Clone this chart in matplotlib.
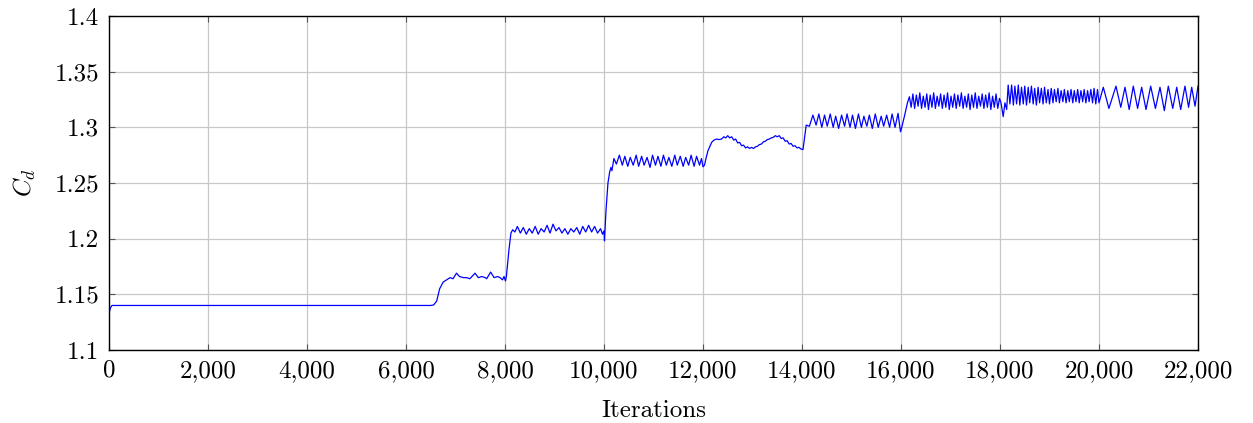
import matplotlib
matplotlib.use('Agg')
import matplotlib.pyplot as plt
from matplotlib.ticker import FuncFormatter
import numpy as np

# drag coefficient history, read per restart block
it_start = [0, 30, 60, 6500, 6560, 6620, 6680, 6750]
cd_start = [1.133, 1.138, 1.140, 1.140, 1.1405, 1.144, 1.155, 1.161]

it_b1 = [6820, 6890, 6950, 7020, 7080, 7160, 7225, 7290, 7395, 7460,
         7530, 7600, 7630, 7710, 7780, 7850, 7900, 7950, 7980, 8010]
cd_b1 = [1.163, 1.165, 1.164, 1.169, 1.166, 1.165, 1.165, 1.164, 1.169, 1.165,
         1.166, 1.165, 1.164, 1.170, 1.165, 1.166, 1.165, 1.163, 1.166, 1.162]

it_b2 = [8030, 8080, 8120, 8155, 8200, 8250, 8310, 8370, 8430, 8490,
         8550, 8610, 8670, 8730, 8790, 8850, 8910, 8970, 9030, 9090,
         9150, 9210, 9270, 9330, 9390, 9450, 9510, 9570, 9630, 9690,
         9750, 9810, 9870, 9930, 9970, 10000, 10010]
cd_b2 = [1.167, 1.190, 1.205, 1.208, 1.206, 1.211, 1.205, 1.210, 1.204, 1.209,
         1.205, 1.211, 1.204, 1.209, 1.206, 1.212, 1.205, 1.213, 1.207, 1.210,
         1.205, 1.209, 1.204, 1.209, 1.206, 1.210, 1.204, 1.211, 1.206, 1.212,
         1.206, 1.211, 1.205, 1.209, 1.204, 1.207, 1.198]

it_b3 = [10040, 10080, 10115, 10140, 10160, 10200, 10250, 10310, 10370, 10420,
         10480, 10530, 10590, 10650, 10700, 10760, 10810, 10870, 10930, 10980,
         11040, 11090, 11150, 11200, 11260, 11310, 11370, 11430, 11480, 11540,
         11600, 11650, 11710, 11760, 11820, 11870, 11930, 11970, 12000, 12030]
cd_b3 = [1.225, 1.250, 1.260, 1.264, 1.261, 1.272, 1.267, 1.275, 1.266, 1.274,
         1.265, 1.273, 1.266, 1.275, 1.265, 1.274, 1.266, 1.273, 1.264, 1.275,
         1.266, 1.274, 1.265, 1.275, 1.266, 1.273, 1.265, 1.275, 1.266, 1.274,
         1.265, 1.273, 1.266, 1.275, 1.265, 1.274, 1.266, 1.272, 1.2645, 1.266]

it_b4 = [12060, 12100, 12140, 12175, 12220, 12275, 12320, 12375, 12420, 12460,
         12500, 12540, 12580, 12620, 12660, 12700, 12740, 12780, 12820, 12860,
         12900, 12940, 12980, 13020, 13060, 13100, 13140, 13180, 13220, 13260,
         13300, 13340, 13380, 13420, 13460, 13500, 13540, 13580, 13620, 13660,
         13700, 13740, 13780, 13820, 13860, 13900, 13940, 13980, 14020]
cd_b4 = [1.272, 1.279, 1.283, 1.2865, 1.2885, 1.2895, 1.289, 1.2895, 1.2915, 1.2905,
         1.2925, 1.2905, 1.2915, 1.2885, 1.2895, 1.2860, 1.2865, 1.2835, 1.2840, 1.2815,
         1.2825, 1.2810, 1.2820, 1.2810, 1.2825, 1.2830, 1.2845, 1.2850, 1.2870, 1.2875,
         1.2890, 1.2895, 1.2905, 1.2910, 1.2925, 1.2915, 1.2925, 1.2900, 1.2905, 1.2875,
         1.2880, 1.2850, 1.2855, 1.2830, 1.2835, 1.2815, 1.2820, 1.2805, 1.2800]

it_b5 = [14050, 14085, 14150, 14220, 14285, 14340, 14400, 14455, 14510, 14570,
         14630, 14680, 14740, 14800, 14860, 14910, 14970, 15020, 15080, 15140,
         15200, 15250, 15310, 15360, 15420, 15480, 15540, 15600, 15650, 15710,
         15770, 15820, 15880, 15940, 15990, 16010]
cd_b5 = [1.2905, 1.302, 1.301, 1.311, 1.302, 1.312, 1.300, 1.311, 1.301, 1.312,
         1.300, 1.310, 1.299, 1.311, 1.301, 1.312, 1.300, 1.311, 1.299, 1.312,
         1.300, 1.310, 1.301, 1.311, 1.299, 1.312, 1.300, 1.310, 1.301, 1.311,
         1.300, 1.312, 1.300, 1.3126, 1.296, 1.299]

it_b6 = [16075, 16130, 16170,
         16205, 16240, 16275, 16310, 16345, 16380, 16415, 16450, 16485, 16520,
         16555, 16590, 16625, 16660, 16695, 16730, 16765, 16800, 16835, 16870,
         16905, 16940, 16975, 17010, 17045, 17080, 17115, 17150, 17185, 17220,
         17255, 17290, 17325, 17360, 17395, 17430, 17465, 17500, 17535, 17570,
         17605, 17640, 17675, 17710, 17745, 17780, 17815, 17850, 17885, 17920,
         17955, 17990]
cd_b6 = [1.311, 1.322, 1.3275,
         1.318, 1.330, 1.317, 1.329, 1.319, 1.331, 1.317, 1.328, 1.318, 1.330,
         1.316, 1.329, 1.318, 1.331, 1.317, 1.328, 1.319, 1.330, 1.317, 1.329,
         1.318, 1.331, 1.316, 1.328, 1.318, 1.330, 1.317, 1.329, 1.319, 1.331,
         1.317, 1.328, 1.318, 1.330, 1.316, 1.329, 1.318, 1.331, 1.317, 1.328,
         1.319, 1.330, 1.317, 1.329, 1.318, 1.331, 1.316, 1.328, 1.318, 1.330,
         1.317, 1.326]

it_b7 = [18020, 18065, 18100, 18135, 18165,
         18200, 18235, 18270, 18300, 18335, 18370, 18400, 18435, 18470, 18500,
         18535, 18570, 18600, 18635, 18670, 18700, 18735, 18770, 18800, 18835,
         18870, 18900, 18935, 18970, 19000, 19035, 19070, 19100, 19135, 19170,
         19200, 19235, 19270, 19300, 19335, 19370, 19400, 19435, 19470, 19500,
         19535, 19570, 19600, 19635, 19670, 19700, 19735, 19770, 19800, 19835,
         19870, 19900, 19935, 19970, 20000]
cd_b7 = [1.322, 1.3096, 1.322, 1.316, 1.338,
         1.321, 1.338, 1.320, 1.337, 1.321, 1.338, 1.320, 1.336, 1.321, 1.337,
         1.320, 1.336, 1.322, 1.337, 1.321, 1.335, 1.320, 1.336, 1.322, 1.335,
         1.321, 1.336, 1.322, 1.334, 1.321, 1.335, 1.322, 1.334, 1.323, 1.335,
         1.322, 1.333, 1.323, 1.334, 1.322, 1.333, 1.323, 1.334, 1.322, 1.333,
         1.323, 1.334, 1.322, 1.333, 1.323, 1.334, 1.322, 1.333, 1.323, 1.334,
         1.322, 1.335, 1.321, 1.334, 1.322]

it_b8 = [20087, 20200, 20343, 20440, 20525, 20610, 20693, 20780, 20862, 20950,
         21044, 21140, 21232, 21320, 21400, 21490, 21570, 21650, 21737, 21810,
         21873, 21940, 22000]
cd_b8 = [1.336, 1.317, 1.337, 1.318, 1.336, 1.316, 1.337, 1.317, 1.336, 1.316,
         1.337, 1.317, 1.336, 1.315, 1.337, 1.317, 1.336, 1.316, 1.337, 1.318,
         1.336, 1.319, 1.337]

xticks = [0, 2000, 4000, 6000, 8000, 10000, 12000, 14000, 16000, 18000, 20000, 22000]
yticks = [1.1, 1.15, 1.2, 1.25, 1.3, 1.35, 1.4]

iters = np.concatenate([it_start, it_b1, it_b2, it_b3, it_b4, it_b5, it_b6, it_b7, it_b8])
cd = np.concatenate([cd_start, cd_b1, cd_b2, cd_b3, cd_b4, cd_b5, cd_b6, cd_b7, cd_b8])

plt.rcParams['font.family'] = 'serif'
plt.rcParams['font.serif'] = ['cmr10', 'DejaVu Serif']
plt.rcParams['mathtext.fontset'] = 'cm'
plt.rcParams['axes.formatter.use_mathtext'] = True

fig = plt.figure(figsize=(12.53, 4.23), dpi=100)
ax = fig.add_axes([109/1253, 1 - 350/423, 1089/1253, 334/423])

ax.plot(iters, cd, color='#0000ff', lw=0.9)

ax.set_xlim(0, 22000)
ax.set_ylim(1.1, 1.4)
ax.set_xticks(xticks)
ax.set_yticks(yticks)
ax.xaxis.set_major_formatter(FuncFormatter(lambda v, p: f'{int(v):,}'))
ax.yaxis.set_major_formatter(FuncFormatter(lambda v, p: f'{v:g}'))
ax.grid(True, color='#c8c8c8', lw=0.9)
ax.set_axisbelow(True)
ax.tick_params(direction='in', length=4, width=0.8, color='#555555',
               top=True, right=True, labelsize=18, pad=7)
for s in ax.spines.values():
    s.set_linewidth(1.0)

ax.set_xlabel('Iterations', fontsize=18, labelpad=13)
ax.set_ylabel('$C_d$', fontsize=18, labelpad=12)

fig.savefig('out.png', dpi=100)
